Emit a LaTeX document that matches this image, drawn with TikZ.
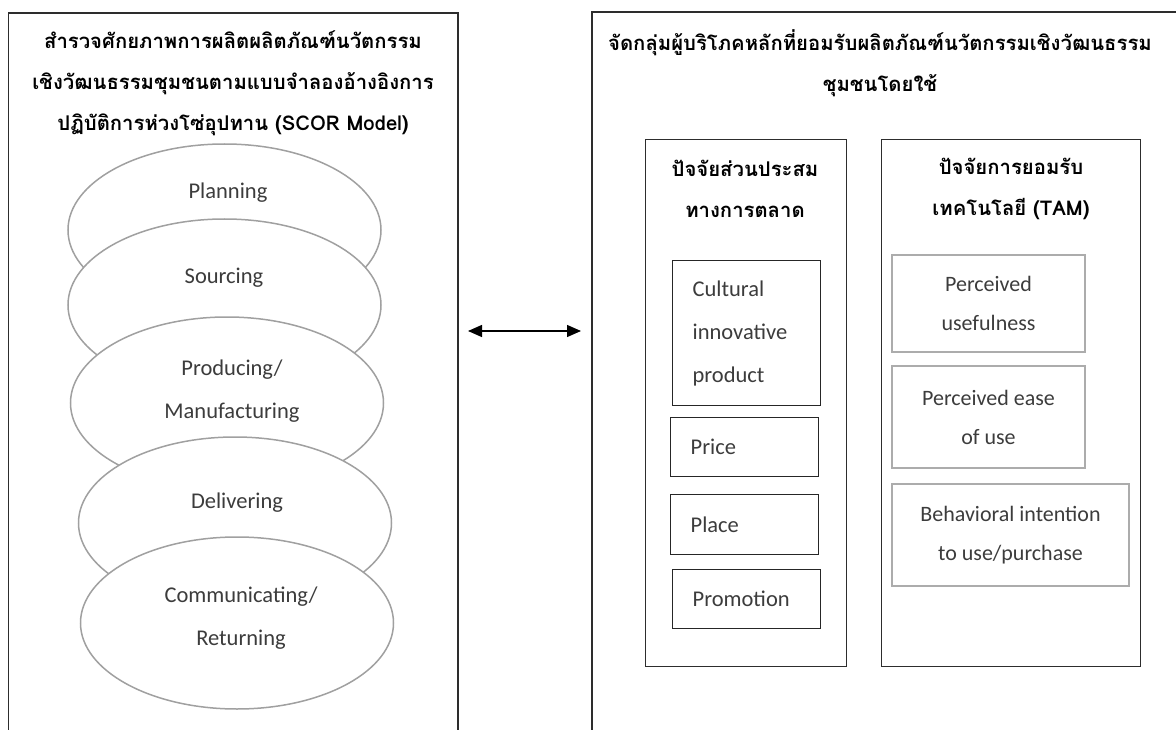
\documentclass[tikz,border=0pt]{standalone}
\usepackage{fontspec}
\setmainfont{Carlito}
\newfontfamily\thaifont[Script=Thai]{Loma}
\usetikzlibrary{arrows.meta,shapes.geometric}
\definecolor{boxline}{RGB}{45,45,45}
\definecolor{ellline}{RGB}{160,160,160}
\definecolor{tamline}{RGB}{172,172,172}
\definecolor{txtgray}{RGB}{60,60,60}
\newcommand{\thhead}{\thaifont\bfseries\fontsize{20.3}{41}\selectfont}
\newcommand{\latxt}{\fontsize{22.5}{43}\selectfont}
\newcommand{\lattam}{\fontsize{22}{39}\selectfont}

\begin{document}
\begin{tikzpicture}[x=1pt, y=-1pt,
  outer/.style={draw=boxline, line width=1.5pt, anchor=north west, inner sep=0pt},
  grp/.style={draw=boxline, line width=1.3pt, anchor=north west, inner sep=0pt,
              minimum height=527pt},
  head/.style={font=\thhead, align=center, inner sep=0pt},
  ell/.style={ellipse, draw=ellline, line width=1.5pt, fill=white,
              minimum width=313pt, minimum height=172pt, inner sep=0pt},
  elltxt/.style={font=\latxt, text=txtgray, align=center, inner sep=0pt},
  mix/.style={draw=black!85, line width=1.3pt, anchor=north west, inner xsep=20pt,
              inner ysep=0pt, text width=108pt, align=left, font=\latxt, text=txtgray},
  tam/.style={draw=tamline, line width=2pt, anchor=north west, inner sep=0pt,
              align=center, font=\lattam, text=txtgray},
  both/.style={{Triangle[length=14pt,width=12pt]}-{Triangle[length=14pt,width=12pt]},
               line width=1.3pt}]
\useasboundingbox (0,0) rectangle (1176,730);
% two main panels, open at the bottom
\node[outer, minimum width=449.5pt, minimum height=800pt] (scor) at (7.5,12.5) {};
\node[outer, minimum width=700pt, minimum height=800pt] (cons) at (591,11.5) {};
\node[head] (scorT) at (233,83)
  {สำรวจศักยภาพการผลิตผลิตภัณฑ์นวัตกรรม\\เชิงวัฒนธรรมชุมชนตามแบบจำลองอ้างอิงการ\\ปฏิบัติการห่วงโซ่อุปทาน (SCOR Model)};
\node[head] (consT) at (880,63)
  {จัดกลุ่มผู้บริโภคหลักที่ยอมรับผลิตภัณฑ์นวัตกรรมเชิงวัฒนธรรม\\ชุมชนโดยใช้};
% SCOR stages
\node[ell] (plan) at (224.5,230) {};
\node[ell] (srce) at (224.5,305) {};
\node[ell] (prod) at (227,403) {};
\node[ell] (delv) at (235,523) {};
\node[ell] (comm) at (237,623) {};
\node[elltxt] (planT) at (228,193) {Planning};
\node[elltxt] (srceT) at (224,278) {Sourcing};
\node[elltxt] (prodT) at (232,391) {Producing/\\Manufacturing};
\node[elltxt] (delvT) at (237,503) {Delivering};
\node[elltxt] (commT) at (241,618) {Communicating/\\Returning};
% link between panels
\coordinate (aL) at (468,331);
\coordinate (aR) at (581,331);
\draw[both] (aL) -- (aR);
% marketing mix
\node[grp, minimum width=201pt] (mmix) at (645,139) {};
\node[head] (mmixT) at (745,189) {ปัจจัยส่วนประสม\\ทางการตลาด};
\node[mix, minimum height=145pt] (cult)  at (672,260) {Cultural\\innovative\\product};
\node[mix, minimum height=59pt]  (price) at (670,417) {Price};
\node[mix, minimum height=60pt]  (place) at (670,494) {Place};
\node[mix, minimum height=59pt]  (promo) at (672,569) {Promotion};
% technology acceptance
\node[grp, minimum width=259pt] (tamg) at (881,139) {};
\node[head] (tamT) at (1011,189) {ปัจจัยการยอมรับ\\เทคโนโลยี (TAM)};
\node[tam, minimum width=193pt, minimum height=97pt]  (use)  at (891,254) {Perceived\\usefulness};
\node[tam, minimum width=193pt, minimum height=102pt] (ease) at (891,365) {Perceived ease\\of use};
\node[tam, minimum width=237pt, minimum height=102pt] (bint) at (891,483) {Behavioral intention\\to use/purchase};
\end{tikzpicture}
\end{document}
